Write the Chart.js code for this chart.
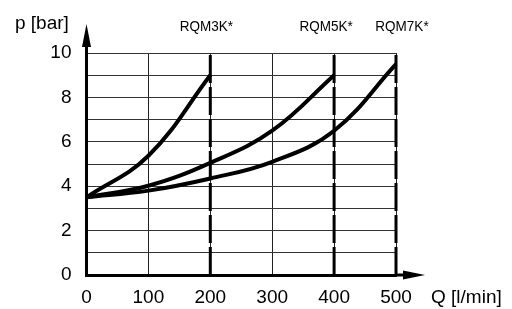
<!DOCTYPE html>
<html>
<head>
<meta charset="utf-8">
<script src="https://cdn.jsdelivr.net/npm/chart.js@4"></script>
<style>
    html, body { margin: 0; padding: 0; background: #ffffff; }
    #wrap { width: 512px; height: 309px; }
</style>
</head>
<body>
<div id="wrap"><canvas id="pumpChart"></canvas></div>
<script>
// Dados (Q em l/min, p em bar)
const flowQ3 = [0, 100, 200];
const press3 = [3.5, 5.37, 9.0];
const flowQ5 = [0, 100, 200, 300, 400];
const press5 = [3.5, 4.02, 5.05, 6.5, 9.0];
const flowQ7 = [0, 100, 200, 300, 400, 500];
const press7 = [3.5, 3.8, 4.35, 5.1, 6.5, 9.5];
const seriesNames = ['RQM3K*', 'RQM5K*', 'RQM7K*'];
const limitQ = [200, 400, 500];
const xTicks = [0, 100, 200, 300, 400, 500];
const yTickLabels = [0, 2, 4, 6, 8, 10];

const FONT = '"Liberation Sans", Arial, sans-serif';

function toPoints(xs, ys) {
    return xs.map((x, i) => ({ x: x, y: ys[i] }));
}

function curve(xs, ys) {
    return {
        data: toPoints(xs, ys),
        borderColor: '#000000',
        borderWidth: 4,
        pointRadius: 0,
        tension: 0.4,
        clip: 6
    };
}

// Linhas verticais grossas tracejadas (limites de vazão)
const limitSets = limitQ.map(q => ({
    data: [{ x: q, y: 0 }, { x: q, y: 10 }],
    borderColor: '#000000',
    borderWidth: 3,
    borderDash: [28, 4],
    pointRadius: 0,
    clip: 6
}));

// Setas dos eixos, títulos e nomes das curvas
const decor = {
    id: 'decor',
    afterDraw(chart) {
        const ctx = chart.ctx;
        const a = chart.chartArea;
        const xs = chart.scales.x;
        ctx.save();
        ctx.strokeStyle = '#000';
        ctx.fillStyle = '#000';
        ctx.lineWidth = 3;

        // eixo y prolongado + seta
        ctx.beginPath();
        ctx.moveTo(a.left, a.top);
        ctx.lineTo(a.left, 40);
        ctx.stroke();
        ctx.beginPath();
        ctx.moveTo(a.left, 24);
        ctx.lineTo(a.left - 4.5, 47);
        ctx.lineTo(a.left + 4.5, 47);
        ctx.closePath();
        ctx.fill();

        // eixo x prolongado + seta
        ctx.beginPath();
        ctx.moveTo(a.right, a.bottom);
        ctx.lineTo(410, a.bottom);
        ctx.stroke();
        ctx.beginPath();
        ctx.moveTo(425, a.bottom);
        ctx.lineTo(403, a.bottom - 4.5);
        ctx.lineTo(403, a.bottom + 4.5);
        ctx.closePath();
        ctx.fill();

        // títulos dos eixos
        ctx.font = '19px ' + FONT;
        ctx.textBaseline = 'middle';
        ctx.textAlign = 'left';
        ctx.fillText('p [bar]', 15, 24);
        ctx.fillText('Q [l/min]', 431, 298);

        // nomes das curvas
        const ends = [flowQ3, flowQ5, flowQ7].map(f => f[f.length - 1]);
        const shift = [-4, -8, 6];
        ctx.font = '15px ' + FONT;
        ctx.textAlign = 'center';
        seriesNames.forEach((name, i) => {
            const cx = xs.getPixelForValue(ends[i]) + shift[i];
            ctx.save();
            ctx.translate(cx, 27);
            ctx.scale(0.9, 1);
            ctx.fillText(name, 0, 0);
            ctx.restore();
        });
        ctx.restore();
    }
};

new Chart(document.getElementById('pumpChart'), {
    type: 'line',
    data: {
        datasets: [
            ...limitSets,
            curve(flowQ3, press3),
            curve(flowQ5, press5),
            curve(flowQ7, press7)
        ]
    },
    options: {
        responsive: true,
        maintainAspectRatio: false,
        animation: false,
        events: [],
        layout: { padding: { top: 53, right: 116, left: 0, bottom: 0 } },
        plugins: { legend: { display: false }, tooltip: { enabled: false } },
        scales: {
            x: {
                type: 'linear',
                min: 0,
                max: 500,
                afterBuildTicks: s => { s.ticks = xTicks.map(v => ({ value: v })); },
                afterFit: s => { s.height = 34; },
                grid: { color: '#222', lineWidth: 1, drawTicks: false },
                border: { display: true, color: '#000', width: 3 },
                ticks: { color: '#000', padding: 11, maxRotation: 0, font: { family: FONT, size: 19 } }
            },
            y: {
                min: 0,
                max: 10,
                ticks: {
                    stepSize: 1,
                    color: '#000',
                    padding: 15,
                    autoSkip: false,
                    font: { family: FONT, size: 19 },
                    callback: v => yTickLabels.includes(v) ? String(v) : ''
                },
                afterFit: s => { s.width = 86.5; },
                grid: { color: '#333', lineWidth: 1, drawTicks: false },
                border: { display: true, color: '#000', width: 3 }
            }
        }
    },
    plugins: [decor]
});
</script>
</body>
</html>
